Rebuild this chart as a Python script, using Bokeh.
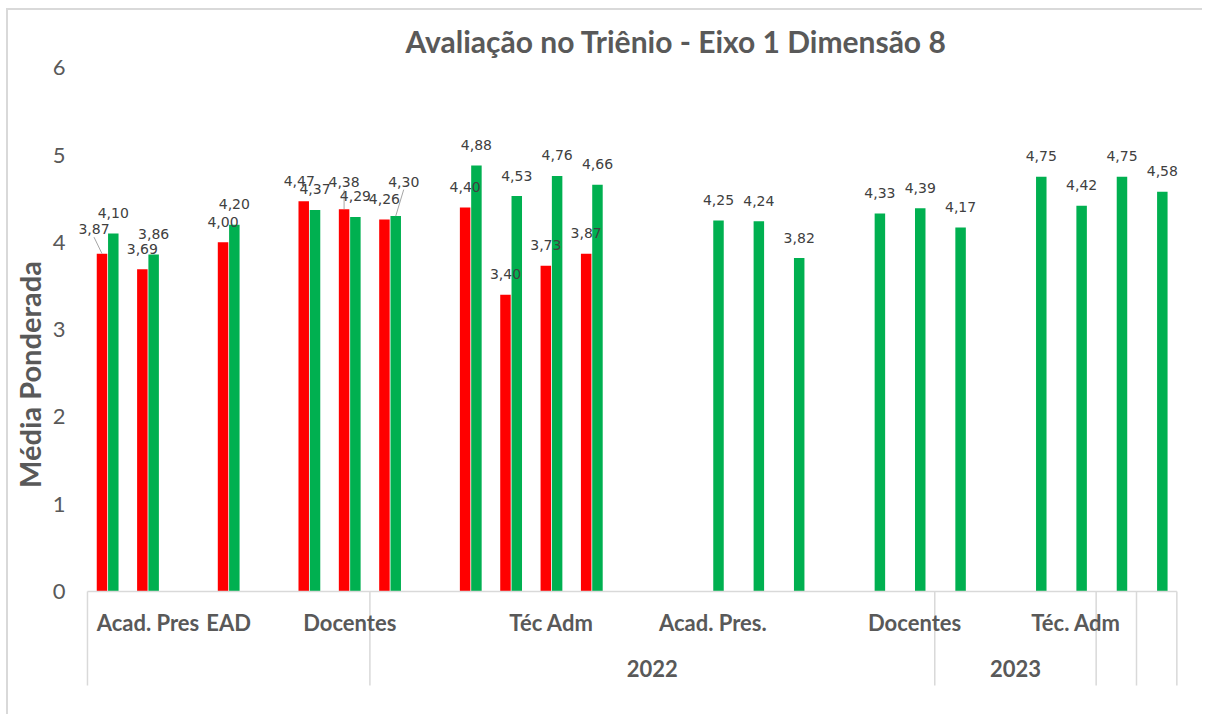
from bokeh.plotting import figure
from bokeh.models import ColumnDataSource, Range1d, FixedTicker
from bokeh.core.properties import value
from bokeh.embed import file_html
from bokeh.resources import INLINE

# ---------------- data ----------------
chart_title = "Avaliação no Triênio - Eixo 1 Dimensão 8"
y_axis_title = "Média Ponderada"

inner_labels = ["", "Acad. Pres", "", "EAD", "", "", "Docentes", "", "", "", "", "Téc Adm", "", "", "",
                "Acad. Pres.", "", "", "", "", "Docentes", "", "", "", "Téc. Adm", "", ""]
outer_labels = ["", "2022", "2023", "", ""]
outer_sizes = [7, 14, 4, 1, 1]

red_values = [3.87, 3.69, None, 4.00, None, 4.47, 4.38, 4.26, None, 4.40, 3.40, 3.73, 3.87,
              None, None, None, None, None, None, None, None, None, None, None, None, None, None]
green_values = [4.10, 3.86, None, 4.20, None, 4.37, 4.29, 4.30, None, 4.88, 4.53, 4.76, 4.66,
                None, None, 4.25, 4.24, 3.82, None, 4.33, 4.39, 4.17, None, 4.75, 4.42, 4.75, 4.58]
y_ticks = [0, 1, 2, 3, 4, 5, 6]

# ---------------- layout / style ----------------
RED = "#FF0000"
GREEN = "#00B050"
GRAY = "#595959"
LINE = "#D9D9D9"
PX_X = 40.42   # pixels per category
PX_Y = 87.3    # pixels per unit
left_pad = 15  # px of frame left of first category slot
frame_w, frame_h = 1112, 628
zero_from_top = 531
bar_w = 0.26
bar_off = 0.14
# label nudges (px) relative to default position: (dx, extra dy, leader line)
red_nudge = {0: (-8, -4, True), 5: (-4.5, 0, False), 6: (0, -7, True)}
green_nudge = {7: (8, -14, True)}
base_dy = -20.5

x_lo = -0.5 - left_pad / PX_X
x_hi = x_lo + frame_w / PX_X
y_hi = zero_from_top / PX_Y
y_lo = y_hi - frame_h / PX_Y

p = figure(width=1196, height=706, x_range=Range1d(x_lo, x_hi), y_range=Range1d(y_lo, y_hi),
           output_backend="svg", toolbar_location=None, x_axis_type=None,
           min_border_left=62, min_border_right=22, min_border_top=50, min_border_bottom=28)
p.outline_line_color = None
p.ygrid.grid_line_color = None
p.background_fill_color = "white"
p.border_fill_color = "white"
p.styles = {"margin-left": "6px", "margin-top": "8px",
            "border-left": "2px solid #D9D9D9", "border-top": "2px solid #D9D9D9"}

# title
p.title.text = chart_title
p.title.align = "left"
p.title.offset = 333
p.title.text_font = "Lato"
p.title.text_font_style = "bold"
p.title.text_font_size = "30px"
p.title.text_color = GRAY
p.title.standoff = 4

# y axis
ax = p.yaxis[0]
ax.ticker = FixedTicker(ticks=y_ticks)
ax.axis_line_color = None
ax.major_tick_line_color = None
ax.minor_tick_line_color = None
ax.major_tick_out = 0
ax.major_label_standoff = 7
ax.major_label_text_font = "Lato"
ax.major_label_text_font_size = "22px"
ax.major_label_text_color = GRAY
ax.axis_label = y_axis_title
ax.axis_label_text_font = "Lato"
ax.axis_label_text_font_style = "bold"
ax.axis_label_text_font_size = "29px"
ax.axis_label_text_color = GRAY
ax.axis_label_standoff = 3


def series(vals, offset, nudges):
    xs, tops, ldx, ldy, txt = [], [], [], [], []
    seg = dict(x0=[], y0=[], x1=[], y1=[])
    for i, v in enumerate(vals):
        if v is None:
            continue
        x = i + offset
        xs.append(x)
        tops.append(v)
        dx, ddy, leader = nudges.get(i, (0, 0, False))
        dy = base_dy + ddy
        ldx.append(dx)
        ldy.append(dy)
        txt.append(f"{v:.2f}".replace(".", ","))
        if leader:
            seg["x0"].append(x)
            seg["y0"].append(v)
            seg["x1"].append(x + dx / PX_X)
            seg["y1"].append(v - (dy + 8) / PX_Y)
    return (ColumnDataSource(dict(x=xs, top=tops, dx=ldx, dy=ldy, t=txt)),
            ColumnDataSource(seg))


layers = [series(red_values, -bar_off, red_nudge), series(green_values, bar_off, green_nudge)]
colors = [RED, GREEN]

for (src, _), col in zip(layers, colors):
    p.vbar(x="x", top="top", bottom=0, width=bar_w, source=src, fill_color=col, line_color=None)
for _, segs in layers:
    p.segment(x0="x0", y0="y0", x1="x1", y1="y1", source=segs, line_color="#A6A6A6", line_width=1)
for src, _ in layers:
    p.text(x="x", y="top", text="t", x_offset="dx", y_offset="dy", source=src,
           text_align="center", text_baseline="middle", text_font=value("DejaVu Sans"),
           text_font_size="14px", text_color="#404040")

# category axis (two tiers)
n_cat = len(inner_labels)
tier_bottom = -94 / PX_Y
tier1_y = -31 / PX_Y
tier2_y = -77 / PX_Y
p.segment(x0=[-0.5], y0=[0], x1=[n_cat - 0.5], y1=[0], line_color=LINE, line_width=1.5)
bounds = [-0.5]
for s in outer_sizes:
    bounds.append(bounds[-1] + s)
p.segment(x0=bounds, y0=[0] * len(bounds), x1=bounds, y1=[tier_bottom] * len(bounds),
          line_color=LINE, line_width=1.5)

in_x = [i for i, t in enumerate(inner_labels) if t]
in_t = [t for t in inner_labels if t]
p.text(x=in_x, y=[tier1_y] * len(in_x), text=in_t, text_align="center", text_baseline="middle",
       text_font=value("Lato"), text_font_style="bold", text_font_size="22px", text_color=GRAY)

out_x, out_t = [], []
for k, t in enumerate(outer_labels):
    if t:
        out_x.append((bounds[k] + bounds[k + 1]) / 2)
        out_t.append(t)
p.text(x=out_x, y=[tier2_y] * len(out_x), text=out_t, text_align="center", text_baseline="middle",
       text_font=value("Lato"), text_font_style="bold", text_font_size="22px", text_color=GRAY)

open("out.html", "w").write(file_html(p, INLINE))
